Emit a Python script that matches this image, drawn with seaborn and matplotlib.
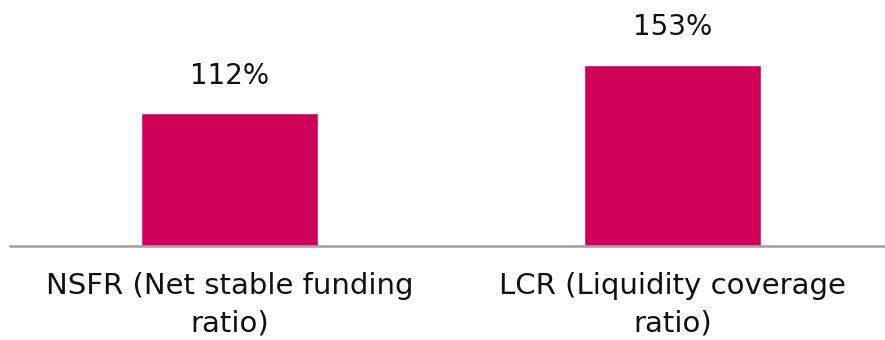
import matplotlib
matplotlib.use("Agg")
import matplotlib.pyplot as plt
import seaborn as sns
import pandas as pd

categories = ["NSFR (Net stable funding\nratio)", "LCR (Liquidity coverage\nratio)"]
values = [112, 153]

df = pd.DataFrame({"cat": categories, "val": values})

sns.set_style("white")
plt.rcParams["font.family"] = ["DejaVu Sans"]

fig = plt.figure(figsize=(8.85, 3.4), dpi=100)
ax = fig.add_axes([10 / 885, 1 - 246 / 340, 875 / 885, 246 / 340])

sns.barplot(data=df, x="cat", y="val", color="#D0005A", saturation=1, width=0.4, ax=ax)

ax.set_xlim(-0.497, 1.480)
ax.set_ylim(0, 207.5)
for s in ["top", "left", "right"]:
    ax.spines[s].set_visible(False)
ax.spines["bottom"].set_color("#A0A0A0")
ax.spines["bottom"].set_linewidth(1.8)
ax.set_yticks([])
ax.set_xlabel("")
ax.set_ylabel("")
ax.tick_params(axis="x", length=0, pad=19, labelsize=21, labelcolor="#111111")
for lbl in ax.get_xticklabels():
    lbl.set_linespacing(1.4)

for cont in ax.containers:
    ax.bar_label(cont, fmt="%d%%", padding=17, fontsize=20, color="#111111")

fig.savefig("out.png", dpi=100)
